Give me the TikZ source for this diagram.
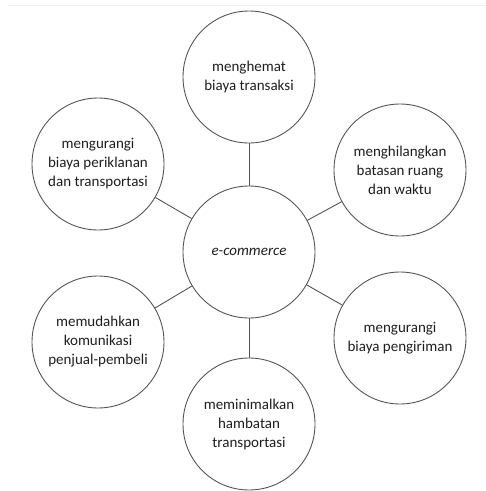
\documentclass[tikz,border=0pt]{standalone}
\usepackage{fontspec}
\setmainfont{Carlito}
\definecolor{linec}{HTML}{555555}
\definecolor{txt}{HTML}{1E1E1E}
\begin{document}
\begin{tikzpicture}[x=1pt,y=-1pt,
  bub/.style={circle,draw=linec,line width=0.9pt,minimum size=132pt,inner sep=0pt,
    align=center,font=\fontsize{15}{19}\selectfont,text=txt},
  link/.style={draw=linec,line width=0.9pt}]
\useasboundingbox (0,0) rectangle (486,491);
\draw[gray!12,line width=1pt] (8,5) -- (486,5);
\node[bub] (c)  at (249,252) {\itshape e-commerce};
\node[bub] (t)  at (249,77)  {menghemat\\biaya transaksi};
\node[bub] (b)  at (249,424) {meminimalkan\\hambatan\\transportasi};
\node[bub] (ul) at (98,164)  {mengurangi\\biaya periklanan\\dan transportasi};
\node[bub] (ur) at (400,170) {menghilangkan\\batasan ruang\\dan waktu};
\node[bub] (ll) at (98,342)  {memudahkan\\komunikasi\\penjual-pembeli};
\node[bub] (lr) at (400,338) {mengurangi\\biaya pengiriman};
\foreach \n in {t,b,ul,ur,ll,lr} \draw[link] (c) -- (\n);
\end{tikzpicture}
\end{document}
